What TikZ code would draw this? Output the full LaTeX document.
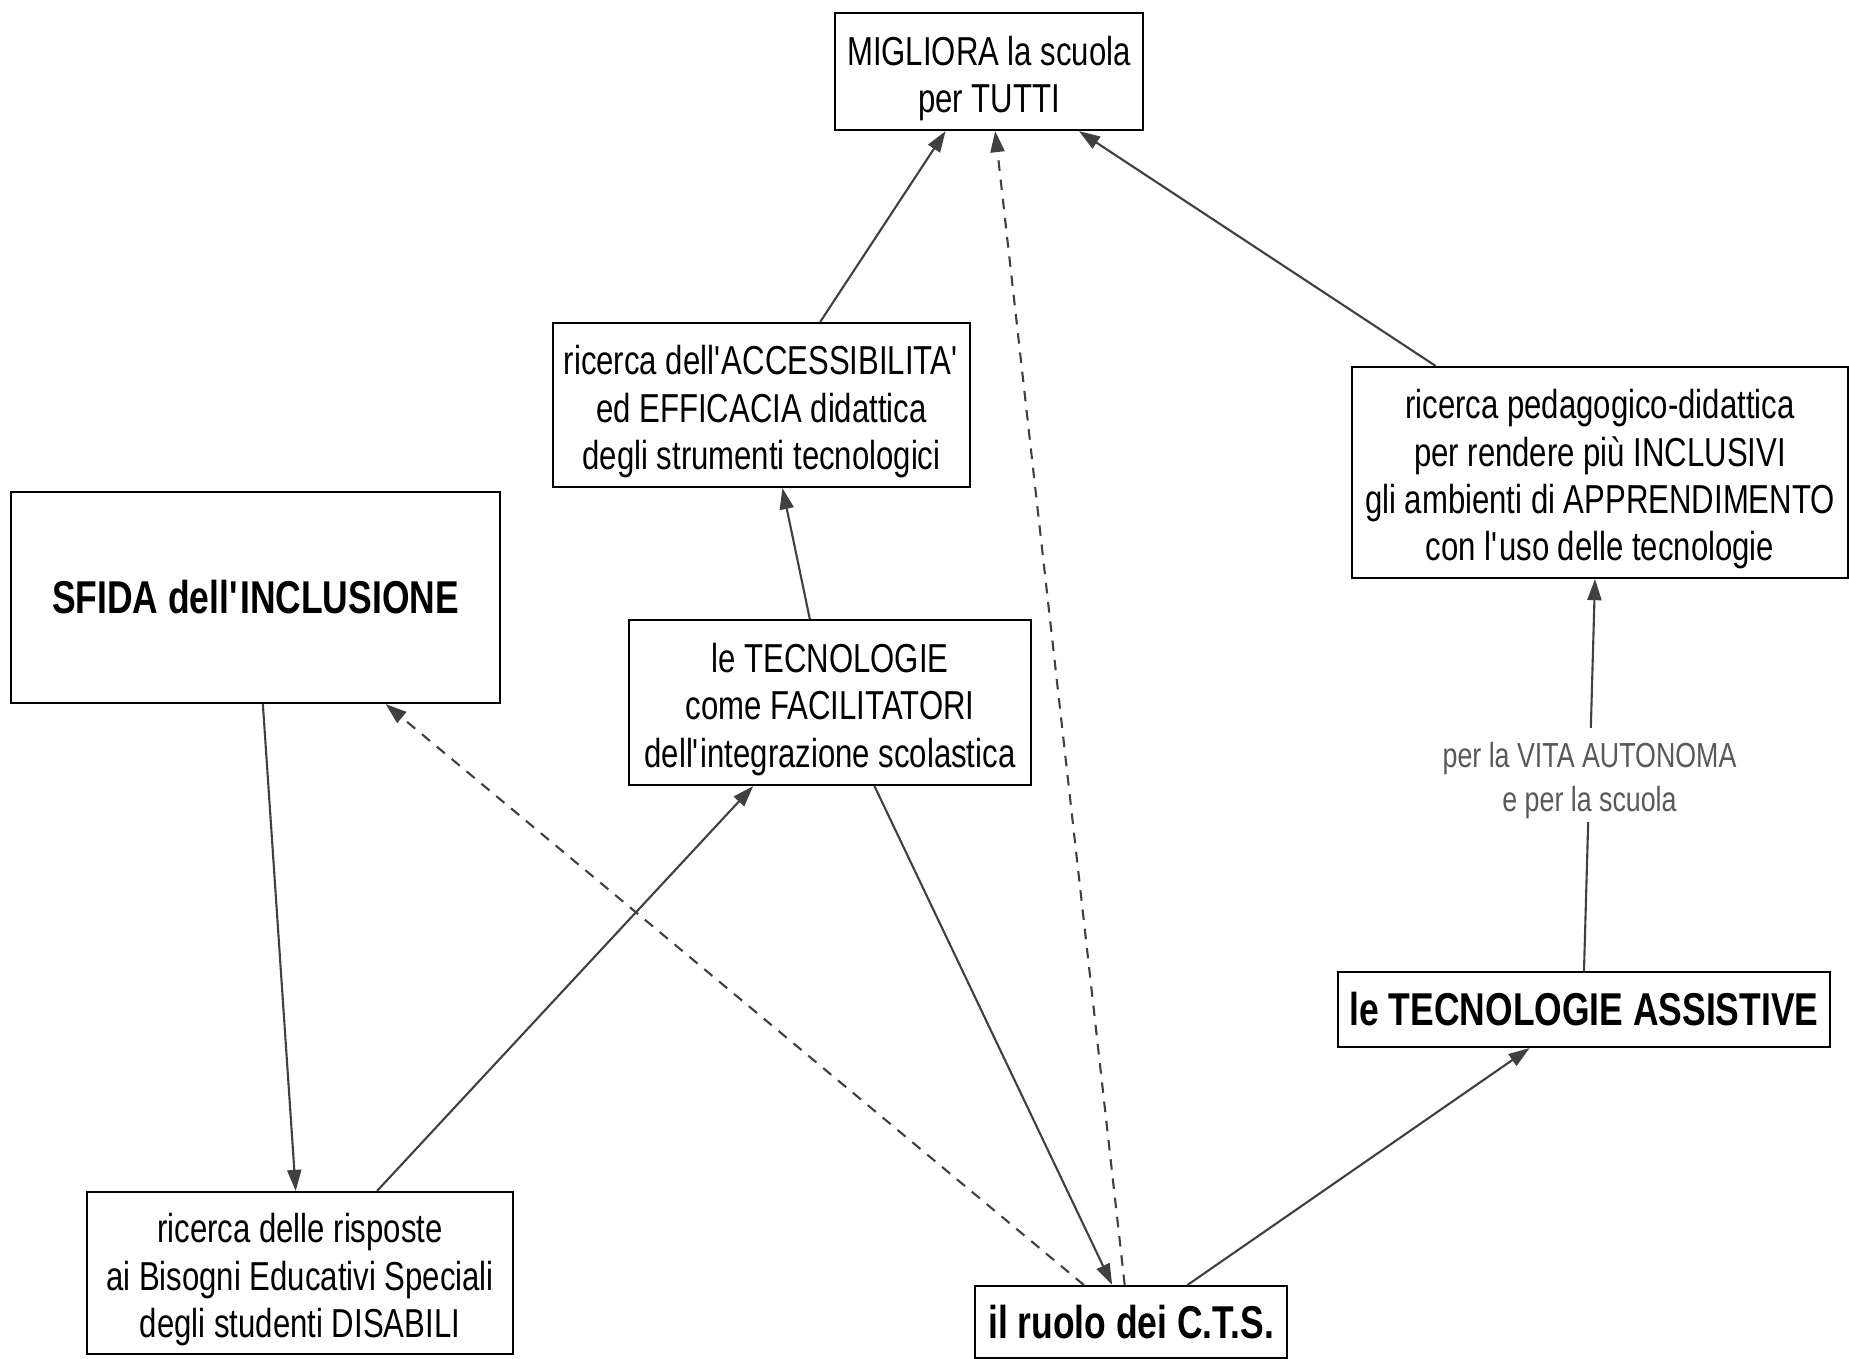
\documentclass[tikz,border=0pt]{standalone}
\usepackage{fontspec}
\setmainfont{Liberation Sans}[FakeStretch=0.77]
\usetikzlibrary{arrows.meta,calc}
\newcommand{\alto}[1]{\rule{0pt}{#1}}

\begin{document}
\begin{tikzpicture}[
	riquadro/.style={draw, line width=0.6pt, align=center, inner sep=0pt},
	concetto/.style={riquadro, font=\fontsize{11.5}{13.5}\selectfont},
	forte/.style={riquadro, font=\fontsize{13.1}{15}\selectfont\bfseries},
	legame/.style={draw=black!75, line width=0.6pt, -{Triangle[length=6pt,width=4pt]}},
	tratteggio/.style={legame, dash pattern=on 3pt off 2.5pt},
	etichetta/.style={fill=white, align=center, inner sep=1pt, text=black!65,
		font=\fontsize{9.9}{12.3}\selectfont}
	]
	\useasboundingbox (0,0) rectangle (18.49,-13.59);
	
	%concetti
	\node[concetto, minimum width=3.08cm, minimum height=1.17cm] (migliora) at (9.89,-0.715)
		{\alto{12.2pt}MIGLIORA la scuola\\per TUTTI};
	\node[concetto, minimum width=4.17cm, minimum height=1.64cm] (accesso) at (7.615,-4.05)
		{\alto{12.2pt}ricerca dell\textquotesingle ACCESSIBILITA\textquotesingle\\ed EFFICACIA didattica\\degli strumenti tecnologici};
	\node[concetto, minimum width=4.96cm, minimum height=2.11cm] (pedagogia) at (16.0,-4.725)
		{\alto{12.2pt}ricerca pedagogico-didattica\\per rendere più INCLUSIVI\\gli ambienti di APPRENDIMENTO\\con l\textquotesingle uso delle tecnologie};
	\node[forte, minimum width=4.89cm, minimum height=2.11cm] (sfida) at (2.555,-5.975)
		{SFIDA dell\textquotesingle INCLUSIONE};
	\node[concetto, minimum width=4.02cm, minimum height=1.65cm] (facilitatori) at (8.30,-7.025)
		{\alto{12.2pt}le TECNOLOGIE\\come FACILITATORI\\dell\textquotesingle integrazione scolastica};
	\node[concetto, minimum width=4.26cm, minimum height=1.62cm] (risposte) at (3.0,-12.73)
		{\alto{12.2pt}ricerca delle risposte\\ai Bisogni Educativi Speciali\\degli studenti DISABILI};
	\node[forte, minimum width=3.12cm, minimum height=0.72cm] (cts) at (11.31,-13.22)
		{il ruolo dei C.T.S.};
	\node[forte, minimum width=4.92cm, minimum height=0.75cm] (assistive) at (15.84,-10.095)
		{le TECNOLOGIE ASSISTIVE};
	
	%legami verso MIGLIORA
	\draw[legame] ($(accesso.north west)!0.64!(accesso.north east)$) -- ($(migliora.south west)!0.36!(migliora.south east)$);
	\draw[tratteggio] ($(cts.north west)!0.48!(cts.north east)$) -- ($(migliora.south west)!0.52!(migliora.south east)$);
	\draw[legame] ($(pedagogia.north west)!0.17!(pedagogia.north east)$) -- ($(migliora.south west)!0.79!(migliora.south east)$);
	
	%legami centrali
	\draw[legame] ($(facilitatori.north west)!0.45!(facilitatori.north east)$) -- ($(accesso.south west)!0.55!(accesso.south east)$);
	\draw[legame] ($(sfida.south west)!0.515!(sfida.south east)$) -- ($(risposte.north west)!0.49!(risposte.north east)$);
	\draw[legame] ($(risposte.north west)!0.68!(risposte.north east)$) -- ($(facilitatori.south west)!0.31!(facilitatori.south east)$);
	\draw[legame] ($(facilitatori.south west)!0.61!(facilitatori.south east)$) -- ($(cts.north west)!0.44!(cts.north east)$);
	\draw[tratteggio] ($(cts.north west)!0.35!(cts.north east)$) -- ($(sfida.south west)!0.765!(sfida.south east)$);
	
	%tecnologie assistive
	\draw[legame] ($(cts.north west)!0.68!(cts.north east)$) -- ($(assistive.south west)!0.39!(assistive.south east)$);
	\draw[legame] ($(assistive.north west)!0.5!(assistive.north east)$) -- ($(pedagogia.south west)!0.49!(pedagogia.south east)$)
		node[etichetta, pos=0.5] (vita) {\alto{10.3pt}per la VITA AUTONOMA\\e per la scuola};
\end{tikzpicture}
\end{document}
